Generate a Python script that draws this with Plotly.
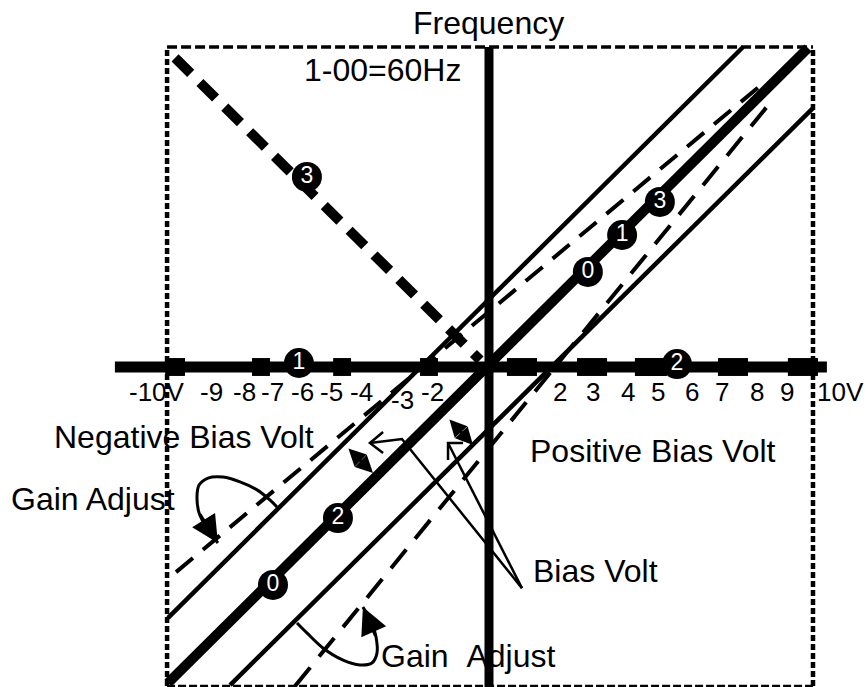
import plotly.graph_objects as go

FONT = "Liberation Sans, Arial, sans-serif"

# ---- frame (units: volts on x, frequency units on y, same scale) ----
frame_x = [-10.06, 10.125]
frame_y = [-9.97, 10.0]

axis_h_x = [-11.69, 10.56]      # horizontal (voltage) axis extent
axis_v_y = [-10.0, 10.0]        # vertical (frequency) axis extent

# ---- characteristic lines: [x0, x1], [y0, y1] ----
main_x, main_y = [-10.03, 9.97], [-9.875, 9.97]          # 0..10V -> 0..60Hz
negbias_x, negbias_y = [-10.03, 7.94], [-7.84, 10.0]     # negative bias
posbias_x, posbias_y = [-8.09, 10.125], [-9.94, 8.09]    # positive bias
neggain_x, neggain_y = [-9.78, 8.625], [-6.41, 8.91]     # gain on negative bias
posgain_x, posgain_y = [-6.06, 8.78], [-9.97, 8.25]      # gain on positive bias
reverse_x, reverse_y = [-9.81, -0.28], [9.66, 0.22]      # -10V..0 reversed

# ---- voltage tick blocks on the horizontal axis ----
tick_pos = [-9.81, -7.125, -4.59, -1.875, 1.03, 3.22, 5.06, 7.625, 9.81]
tick_w = [0.62, 0.56, 0.56, 0.56, 0.94, 0.94, 1.0, 0.94, 0.94]

tick_text = ["-10V", "-9", "-8", "-7", "-6", "-5", "-4", "-3", "-2",
             "2", "3", "4", "5", "6", "7", "8", "9", "10V"]
tick_text_x = [-10.375, -8.66, -7.625, -6.75, -5.84, -4.91, -3.97, -2.69, -1.78,
               2.22, 3.25, 4.34, 5.28, 6.34, 7.28, 8.375, 9.31, 11.0]
tick_text_y = [-0.78] * 7 + [-1.03] + [-0.78] * 10

# ---- numbered markers ----
badge_text = ["3", "1", "2", "0", "2", "0", "1", "3"]
badge_x = [-5.69, -5.94, 5.875, -6.75, -4.72, 3.09, 4.16, 5.34]
badge_y = [5.94, 0.125, 0.09, -6.81, -4.72, 2.97, 4.125, 5.16]

# ---- labels ----
labels = ["Frequency", "1-00=60Hz", "Negative Bias Volt", "Gain Adjust",
          "Positive Bias Volt", "Bias Volt", "Gain\u00a0\u00a0Adjust"]
label_x = [-0.03, -3.34, -9.53, -12.39, 5.14, 3.34, -0.67]
label_y = [10.75, 9.28, -2.19, -4.125, -2.625, -6.375, -9.03]

# ---- bias indicators (double arrows) ----
dbl_arrows = [((-4.44, -2.5), (-3.625, -3.31)),
              ((-1.28, -1.59), (-0.5, -2.44))]

# ---- pointer lines from "Bias Volt" ----
ptr1_x, ptr1_y = [-3.72, -2.72, 1.03], [-2.375, -2.25, -6.91]
ptr1_head_x, ptr1_head_y = [-3.31, -3.72, -3.31], [-2.03, -2.375, -2.69]
ptr2_x, ptr2_y = [-1.28, 1.03], [-2.375, -6.91]
ptr2_head_x, ptr2_head_y = [-1.28, -1.28, -0.81], [-2.91, -2.375, -2.375]

# ---- curved "Gain Adjust" arrows ----
curve1_x = [-6.625, -6.84, -7.25, -7.78, -8.31, -8.78, -9.06, -9.125, -9.06, -8.84, -8.47]
curve1_y = [-4.375, -4.16, -3.84, -3.59, -3.44, -3.47, -3.69, -4.06, -4.56, -5.0, -5.5]
curve2_x = [-6.0, -5.69, -5.19, -4.56, -4.03, -3.66, -3.5, -3.53, -3.66, -3.94]
curve2_y = [-8.0, -8.31, -8.78, -9.16, -9.31, -9.25, -8.94, -8.44, -8.0, -7.5]

fig = go.Figure()


def seg(x, y, width, dash="solid", shape="linear"):
    fig.add_trace(go.Scatter(x=x, y=y, mode="lines", hoverinfo="skip",
                             line=dict(color="black", width=width, dash=dash, shape=shape)))


# frame
seg([frame_x[0], frame_x[0]], frame_y, 4.5, "6px,3px")
seg([frame_x[1], frame_x[1]], frame_y, 4.5, "6px,3px")
seg(frame_x, [frame_y[1], frame_y[1]], 3.5, "10px,4px")
seg(frame_x, [frame_y[0], frame_y[0]], 2.5, "8px,3px")

# characteristic lines
seg(negbias_x, negbias_y, 4.5)
seg(posbias_x, posbias_y, 4.5)
seg(neggain_x, neggain_y, 4, "22px,13px")
seg(posgain_x, posgain_y, 4, "24px,14px")
seg(reverse_x, reverse_y, 10, "22px,13px")
seg(main_x, main_y, 10)

# axes
seg(axis_h_x, [0, 0], 11)
seg([0, 0], axis_v_y, 9)

# tick blocks
for c, w in zip(tick_pos, tick_w):
    fig.add_shape(type="rect", x0=c - w / 2, x1=c + w / 2, y0=-0.28, y1=0.28,
                  xref="x", yref="y", fillcolor="black", line=dict(width=0))

# pointers
seg(ptr1_x, ptr1_y, 2.5)
seg(ptr1_head_x, ptr1_head_y, 2.5)
seg(ptr2_x, ptr2_y, 2.5)
seg(ptr2_head_x, ptr2_head_y, 2.5)

# curved arrows
seg(curve1_x, curve1_y, 3, shape="spline")
seg(curve2_x, curve2_y, 3, shape="spline")
for cx, cy in [(curve1_x, curve1_y), (curve2_x, curve2_y)]:
    fig.add_annotation(x=cx[-1], y=cy[-1], ax=cx[-3], ay=cy[-3], axref="x", ayref="y",
                       xref="x", yref="y", text="", showarrow=True,
                       arrowhead=2, arrowsize=1.8, arrowwidth=3, arrowcolor="black")

# double arrows
for (p, q) in dbl_arrows:
    fig.add_annotation(x=q[0], y=q[1], ax=p[0], ay=p[1], axref="x", ayref="y",
                       xref="x", yref="y", text="", showarrow=True,
                       arrowside="end+start", arrowhead=2, startarrowhead=2,
                       arrowsize=1.15, startarrowsize=1.15, arrowwidth=3,
                       arrowcolor="black")

# numbered markers
fig.add_trace(go.Scatter(x=badge_x, y=badge_y, mode="markers+text", text=badge_text,
                         textposition="middle center", hoverinfo="skip",
                         marker=dict(size=30, color="black", line=dict(width=0)),
                         textfont=dict(family=FONT, size=23, color="white")))

# tick labels
for t, x, y in zip(tick_text, tick_text_x, tick_text_y):
    fig.add_annotation(x=x, y=y, text=t, showarrow=False, xanchor="center", yanchor="middle",
                       font=dict(family=FONT, size=26, color="black"))

# labels
for t, x, y in zip(labels, label_x, label_y):
    fig.add_annotation(x=x, y=y, text=t, showarrow=False, xanchor="center", yanchor="middle",
                       font=dict(family=FONT, size=32, color="black"))

fig.update_layout(
    width=868, height=687, showlegend=False,
    margin=dict(l=0, r=0, t=0, b=0, pad=0),
    paper_bgcolor="white", plot_bgcolor="white",
    xaxis=dict(range=[-15.281, 11.844], visible=False, fixedrange=True),
    yaxis=dict(range=[-10.0, 11.469], visible=False, fixedrange=True),
)

fig.write_html("out.html")
